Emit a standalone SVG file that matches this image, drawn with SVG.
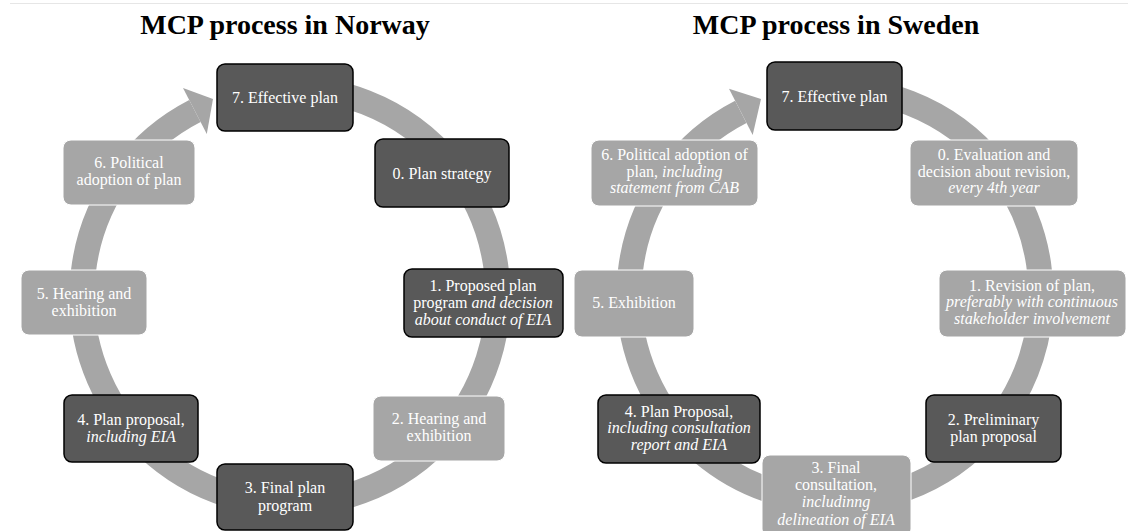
<svg xmlns="http://www.w3.org/2000/svg" width="1128" height="531" viewBox="0 0 1128 531">
<style>
.title{font-family:"Liberation Serif","Times New Roman",serif;font-weight:bold;font-size:28px;fill:#000;text-anchor:middle}
.t{font-family:"Liberation Serif","Times New Roman",serif;font-size:16px;fill:#ffffff;text-anchor:middle}
.i{font-style:italic}
.dark{fill:#595959;stroke:#000;stroke-width:1.5}
.light{fill:#a6a6a6;stroke:#ffffff;stroke-width:1}
.ring{fill:none;stroke:#a6a6a6;stroke-width:25}
.head{fill:#a6a6a6}
</style>
<rect width="1128" height="531" fill="#fff"/>
<line x1="10" y1="3.5" x2="1128" y2="3.5" stroke="#e6e6e6" stroke-width="1"/>
<text class="title" x="285" y="34">MCP process in Norway</text>
<text class="title" x="836" y="34">MCP process in Sweden</text>
<g id="connectors">
<path class="ring" d="M 271.9 88.8 A 208 208 0 1 1 194.9 111.0"/>
<polygon class="head" points="183,87.9 213,99 206.8,134.1"/>
<path class="ring" d="M 817 89.8 A 206 206 0 1 1 740.8 111.8"/>
<polygon class="head" points="729,88.7 761,99 752.7,134.9"/>
</g>
<g id="n7"><rect class="dark" x="217" y="64" width="136" height="67" rx="8"/><text class="t" x="285" y="103">7. Effective plan</text></g>
<g id="n0"><rect class="dark" x="375" y="139" width="134" height="68" rx="8"/><text class="t" x="442" y="179">0. Plan strategy</text></g>
<g id="n1"><rect class="dark" x="404" y="269" width="159" height="68" rx="8"/><text class="t" x="483" y="291">1. Proposed plan</text><text class="t" x="483" y="308">program <tspan class="i">and decision</tspan></text><text class="t i" x="483" y="325">about conduct of EIA</text></g>
<g id="n2"><rect class="light" x="373" y="396" width="132" height="65" rx="8"/><text class="t" x="439" y="424">2. Hearing and</text><text class="t" x="439" y="441">exhibition</text></g>
<g id="n3"><rect class="dark" x="217" y="464" width="136" height="66" rx="8"/><text class="t" x="285" y="493">3. Final plan</text><text class="t" x="285" y="511">program</text></g>
<g id="n4"><rect class="dark" x="64" y="395" width="134" height="67" rx="8"/><text class="t" x="131" y="425">4. Plan proposal,</text><text class="t i" x="131" y="442">including EIA</text></g>
<g id="n5"><rect class="light" x="21" y="270" width="126" height="65" rx="8"/><text class="t" x="84" y="299">5. Hearing and</text><text class="t" x="84" y="316">exhibition</text></g>
<g id="n6"><rect class="light" x="63" y="140" width="132" height="65" rx="8"/><text class="t" x="129" y="168">6. Political</text><text class="t" x="129" y="185">adoption of plan</text></g>
<g id="s7"><rect class="dark" x="767" y="62" width="135" height="68" rx="8"/><text class="t" x="834.5" y="102">7. Effective plan</text></g>
<g id="s0"><rect class="light" x="910" y="140" width="168" height="66" rx="8"/><text class="t" x="994" y="160">0. Evaluation and</text><text class="t" x="994" y="177">decision about revision,</text><text class="t i" x="994" y="193">every 4th year</text></g>
<g id="s1"><rect class="light" x="939" y="270" width="187" height="67" rx="8"/><text class="t" x="1032" y="291">1. Revision of plan,</text><text class="t i" x="1032" y="307">preferably with continuous</text><text class="t i" x="1032" y="324">stakeholder involvement</text></g>
<g id="s2"><rect class="dark" x="926" y="395" width="135" height="67" rx="8"/><text class="t" x="993.5" y="425">2. Preliminary</text><text class="t" x="993.5" y="442">plan proposal</text></g>
<g id="s3"><rect class="light" x="762" y="455" width="149" height="82" rx="8"/><text class="t" x="836" y="473">3. Final</text><text class="t" x="836" y="490">consultation,</text><text class="t i" x="836" y="507">includinng</text><text class="t i" x="836" y="525">delineation of EIA</text></g>
<g id="s4"><rect class="dark" x="598" y="395" width="162" height="68" rx="8"/><text class="t" x="679" y="417">4. Plan Proposal,</text><text class="t i" x="679" y="433">including consultation</text><text class="t i" x="679" y="450">report and EIA</text></g>
<g id="s5"><rect class="light" x="574" y="270" width="120" height="67" rx="8"/><text class="t" x="634" y="308">5. Exhibition</text></g>
<g id="s6"><rect class="light" x="591" y="140" width="167" height="66" rx="8"/><text class="t" x="674.5" y="160">6. Political adoption of</text><text class="t" x="674.5" y="177">plan, <tspan class="i">including</tspan></text><text class="t i" x="674.5" y="193">statement from CAB</text></g>
</svg>
